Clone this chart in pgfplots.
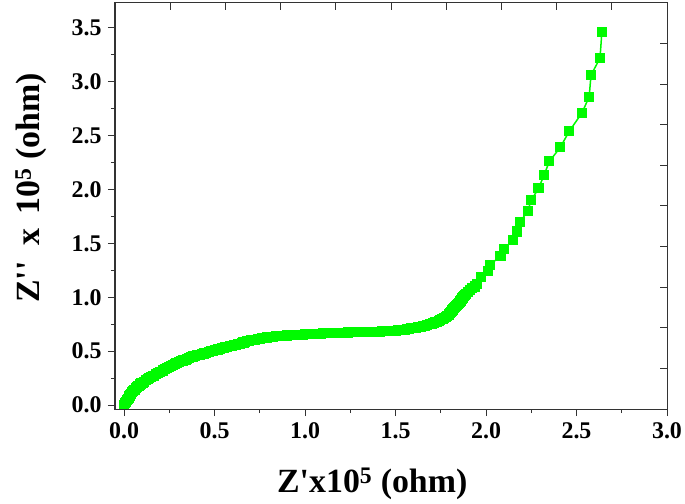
\documentclass[border=0pt]{standalone}
\usepackage{pgfplots}
\pgfplotsset{compat=1.18}
\usepackage{fontspec}
\setmainfont{Liberation Serif}[Ligatures=TeXOff]
\definecolor{lg}{RGB}{0,250,0}
\begin{document}
\begin{tikzpicture}[x=1bp,y=1bp]
\begin{axis}[
  name=main,
  at={(0,0)}, anchor=south west,
  scale only axis, width=552bp, height=406bp,
  xmin=-0.05, xmax=3.0, ymin=-0.037, ymax=3.73,
  xtick={0,0.5,...,3.0}, ytick={0,0.5,...,3.5},
  minor tick num=1,
  xtick pos=bottom, ytick pos=left,
  tick align=outside,
  major tick length=7bp, minor tick length=4bp,
  axis line style={black!80, line width=1bp},
  every tick/.style={black!80, line width=1bp},
  /pgf/number format/.cd, fixed, fixed zerofill, precision=1, assume math mode=true,
  /pgfplots/.cd,
  ticklabel style={font=\fontsize{24}{28}\selectfont\bfseries},
  xticklabel style={yshift=-3bp},
  yticklabel style={xshift=-3bp},
  xlabel={Z'x10\textsuperscript{5} (ohm)},
  ylabel={Z''\hspace{16bp}x\hspace{14bp}10\textsuperscript{5} (ohm)},
  label style={font=\fontsize{34}{40}\selectfont\bfseries},
  xlabel style={at={(axis description cs:0.466,-0.185)}, anchor=center},
  ylabel style={at={(axis description cs:-0.152,0.544)}, anchor=center},
  clip=false,
]
\addplot[color=lg, line width=1.5bp, mark=square*, mark size=4.3bp, mark options={fill=lg, draw=lg}] coordinates {
(0.00,0.00) (0.005,0.015) (0.01,0.03) (0.015,0.043) (0.02,0.055) (0.025,0.068) (0.03,0.08) (0.035,0.093)
(0.04,0.105) (0.045,0.118) (0.05,0.13) (0.058,0.143) (0.065,0.155) (0.072,0.168) (0.08,0.18) (0.088,0.19)
(0.095,0.20) (0.103,0.208) (0.11,0.215) (0.12,0.228) (0.13,0.24) (0.14,0.25) (0.15,0.26) (0.163,0.273)
(0.175,0.285) (0.188,0.298) (0.20,0.31) (0.213,0.32) (0.225,0.33) (0.238,0.34) (0.25,0.35) (0.26,0.36)
(0.27,0.37) (0.28,0.38) (0.29,0.39) (0.303,0.398) (0.315,0.405) (0.328,0.413) (0.34,0.42) (0.35,0.428)
(0.36,0.435) (0.37,0.443) (0.38,0.45) (0.393,0.455) (0.405,0.46) (0.418,0.465) (0.43,0.47) (0.443,0.478)
(0.455,0.485) (0.468,0.493) (0.48,0.50) (0.493,0.505) (0.505,0.51) (0.518,0.515) (0.53,0.52) (0.54,0.525)
(0.55,0.53) (0.56,0.535) (0.57,0.54) (0.583,0.545) (0.595,0.55) (0.608,0.555) (0.62,0.56) (0.63,0.565)
(0.64,0.57) (0.65,0.575) (0.66,0.58) (0.67,0.585) (0.68,0.59) (0.69,0.595) (0.70,0.60) (0.713,0.603)
(0.725,0.607) (0.738,0.611) (0.75,0.615) (0.763,0.618) (0.775,0.622) (0.788,0.626) (0.80,0.63) (0.813,0.632)
(0.825,0.635) (0.838,0.638) (0.85,0.64) (0.863,0.642) (0.875,0.643) (0.888,0.644) (0.90,0.645) (0.913,0.647)
(0.925,0.648) (0.938,0.649) (0.95,0.65) (0.963,0.651) (0.975,0.652) (0.988,0.653) (1.00,0.655) (1.013,0.656)
(1.025,0.657) (1.038,0.658) (1.05,0.66) (1.063,0.661) (1.075,0.662) (1.088,0.663) (1.10,0.665) (1.113,0.666)
(1.125,0.667) (1.138,0.668) (1.15,0.67) (1.163,0.67) (1.175,0.67) (1.188,0.67) (1.20,0.67) (1.213,0.671)
(1.225,0.672) (1.238,0.673) (1.25,0.675) (1.263,0.675) (1.275,0.675) (1.288,0.675) (1.30,0.675) (1.313,0.676)
(1.325,0.678) (1.338,0.679) (1.35,0.68) (1.363,0.68) (1.375,0.68) (1.388,0.68) (1.40,0.68) (1.413,0.681)
(1.425,0.683) (1.438,0.684) (1.45,0.685) (1.463,0.686) (1.475,0.688) (1.488,0.689) (1.50,0.69) (1.513,0.692)
(1.525,0.695) (1.538,0.697) (1.55,0.70) (1.563,0.703) (1.575,0.707) (1.588,0.711) (1.60,0.715) (1.613,0.718)
(1.625,0.722) (1.638,0.726) (1.65,0.73) (1.663,0.736) (1.675,0.742) (1.688,0.748) (1.70,0.755) (1.71,0.761)
(1.72,0.767) (1.73,0.773) (1.74,0.78) (1.748,0.787) (1.755,0.795) (1.763,0.802) (1.77,0.81) (1.778,0.82)
(1.785,0.83) (1.793,0.84) (1.80,0.85) (1.805,0.86) (1.81,0.87) (1.815,0.88) (1.82,0.89) (1.825,0.90)
(1.83,0.91) (1.835,0.92) (1.84,0.93) (1.845,0.94) (1.85,0.95) (1.855,0.96) (1.86,0.97) (1.865,0.98)
(1.87,0.99) (1.875,1.00) (1.88,1.01) (1.885,1.02) (1.89,1.03) (1.90,1.05) (1.913,1.068) (1.925,1.085)
(1.938,1.10) (1.95,1.12) (1.97,1.19) (2.01,1.24) (2.02,1.30) (2.08,1.38) (2.10,1.45) (2.15,1.53)
(2.17,1.61) (2.19,1.70) (2.23,1.80) (2.25,1.90) (2.29,2.01) (2.32,2.13) (2.35,2.26) (2.41,2.39)
(2.46,2.54) (2.53,2.71) (2.57,2.86) (2.58,3.06) (2.63,3.22) (2.64,3.46)
};
\end{axis}
\begin{axis}[
  at={(0,0)}, anchor=south west,
  scale only axis, width=552bp, height=406bp,
  xmin=0, xmax=10, ymin=0, ymax=10,
  xtick={1,...,9}, ytick={1,...,9},
  xticklabels={}, yticklabels={},
  xtick pos=top, ytick pos=right,
  tick align=inside,
  major tick length=7bp,
  axis line style={black!80, line width=1bp},
  every tick/.style={black!80, line width=1bp},
]
\addplot[draw=none] coordinates {(0,0)};
\end{axis}
\pgfresetboundingbox
\path (-115bp,-95bp) rectangle (570bp,409bp);
\end{tikzpicture}
\end{document}
